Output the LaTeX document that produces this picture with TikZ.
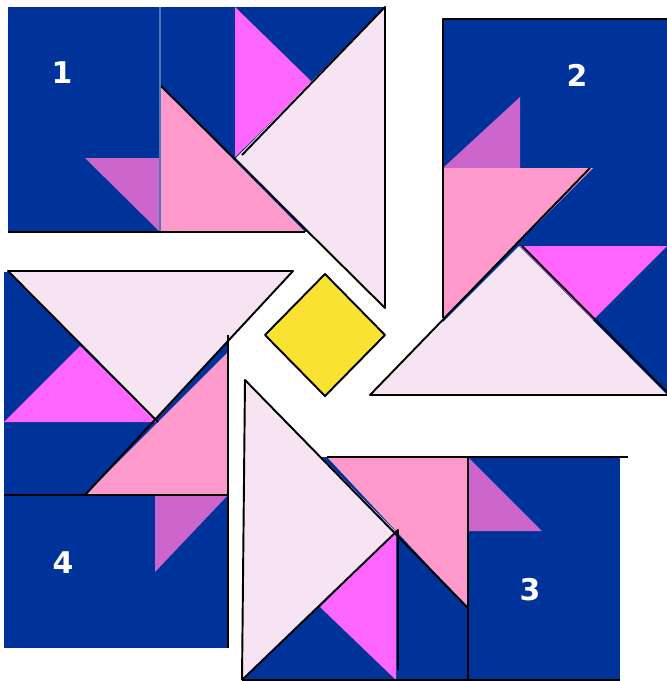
\documentclass[tikz,border=0pt]{standalone}
\usepackage{fontspec}
\setsansfont{DejaVu Sans}
\usetikzlibrary{positioning}
\definecolor{navy}{HTML}{003399}
\definecolor{blush}{HTML}{F6E4F3}
\definecolor{rose}{HTML}{FE99CC}
\definecolor{magen}{HTML}{FF66FF}
\definecolor{orchid}{HTML}{CC66CC}
\definecolor{sun}{HTML}{F9E231}
\definecolor{seam}{HTML}{4A7ABA}

\begin{document}
\begin{tikzpicture}[x=0.02cm,y=-0.02cm,line join=round,
    bg/.style={fill=navy},
    tribig/.style={fill=blush},
    trimid/.style={fill=rose},
    trimag/.style={fill=magen},
    triorc/.style={fill=orchid},
    edge/.style={draw=black,line width=1.1pt},
    num/.style={text=white,font=\sffamily\bfseries\fontsize{17}{19}\selectfont}]
    \useasboundingbox (0,0) rectangle (667,681);
    % block 1
    \fill[bg] (8,7) rectangle (385,232);
    \fill[triorc] (85,158) -- (160,158) -- (160,232) -- cycle;
    \fill[trimag] (235,7) -- (312,82) -- (235,157) -- cycle;
    \fill[trimid] (160,85) -- (305,232) -- (160,232) -- cycle;
    \fill[tribig] (385,7) -- (385,308) -- (236,158) -- cycle;
    \draw[edge] (242,155) -- (385,7) -- (385,308) -- (160,85);
    \draw[seam,line width=1pt] (160,7) -- (160,232);
    \draw[edge] (8,232) -- (305,232);
    \node[num] (n1) at (62,73) {1};
    % block 2
    \fill[bg] (443,19) rectangle (667,395);
    \fill[triorc] (443,168) -- (520,97) -- (520,168) -- cycle;
    \fill[trimid] (443,168) -- (593,168) -- (443,318) -- cycle;
    \fill[trimag] (520,246) -- (667,246) -- (593,320) -- cycle;
    \fill[tribig] (370,395) -- (667,395) -- (519,246) -- cycle;
    \draw[edge] (590,168) -- (370,395) -- (667,395);
    \draw[edge] (522,246) -- (667,392);
    \draw[edge] (443,318) -- (443,19) -- (667,19);
    \node[num] (n2) at (577,75) {2};
    % block 3
    \fill[bg] (245,457) rectangle (620,680);
    \fill[trimid] (327,457) -- (468,457) -- (468,608) -- cycle;
    \fill[triorc] (468,457) -- (542,531) -- (468,531) -- cycle;
    \fill[tribig] (245,380) -- (396,532) -- (242,680) -- cycle;
    \fill[trimag] (396,532) -- (396,680) -- (320,607) -- cycle;
    \draw[edge] (242,680) -- (245,380) -- (468,608);
    \draw[edge] (242,680) -- (398,530) -- (398,670);
    \draw[edge] (468,457) -- (468,680);
    \draw[edge] (327,457) -- (628,457);
    \draw[edge] (242,680) -- (620,680);
    \node[num] (n3) at (530,590) {3};
    % block 4
    \fill[bg] (4,272) rectangle (228,648);
    \fill[trimag] (4,422) -- (80,346) -- (157,422) -- cycle;
    \fill[tribig] (8,271) -- (293,271) -- (155,420) -- cycle;
    \fill[trimid] (85,495) -- (228,495) -- (228,352) -- cycle;
    \fill[triorc] (155,495) -- (228,495) -- (155,572) -- cycle;
    \draw[edge] (158,422) -- (8,271) -- (293,271) -- (85,495);
    \draw[edge] (228,335) -- (228,648);
    \draw[edge] (4,495) -- (228,495);
    \node[num] (n4) at (63,563) {4};
    % centre
    \filldraw[fill=sun,edge] (325,274) -- (385,335) -- (325,396) -- (265,335) -- cycle;
  \end{tikzpicture}
\end{document}
